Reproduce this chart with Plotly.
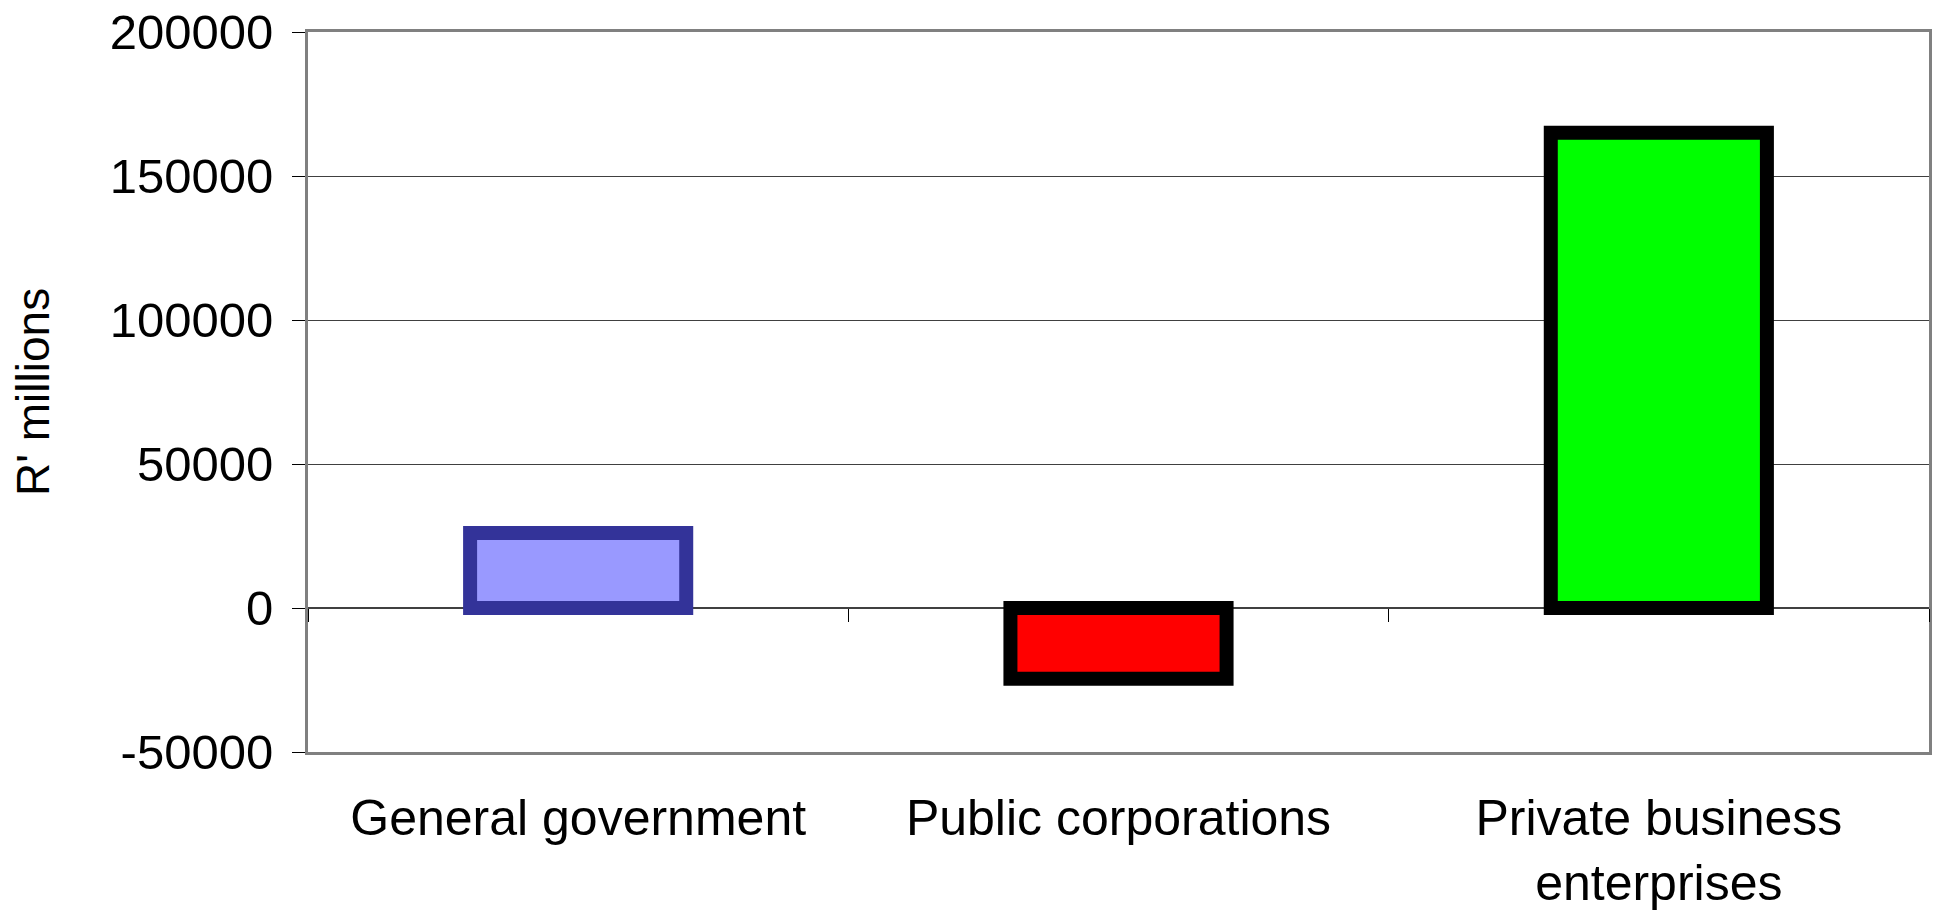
import plotly.graph_objects as go

# Sector balances, R' millions
categories = ["General government", "Public corporations", "Private business<br>enterprises"]
values = [26000, -24600, 165000]
fill_colors = ["#9999FF", "#FF0000", "#00FF00"]
edge_colors = ["#333399", "#000000", "#000000"]

y_ticks = [-50000, 0, 50000, 100000, 150000, 200000]
y_tick_text = ["-50000", "0", "50000", "100000", "150000", "200000"]
category_bounds = [-0.5, 0.5, 1.5, 2.5]
y_title = "R' millions"

FONT = "Liberation Sans, Arial, sans-serif"

fig = go.Figure()
fig.add_trace(go.Bar(
    x=categories,
    y=values,
    width=0.4,
    marker=dict(color=fill_colors, line=dict(color=edge_colors, width=14)),
    showlegend=False,
    hoverinfo="x+y",
))
# empty trace so the category-divider axis on the zero line gets drawn
fig.add_trace(go.Scatter(x=[], y=[], xaxis="x2", showlegend=False, hoverinfo="skip"))

y_min, y_max = y_ticks[0], y_ticks[-1]
zero_pos = (0 - y_min) / (y_max - y_min)

fig.update_layout(
    width=1936,
    height=912,
    margin=dict(l=308, r=7, t=32, b=160),
    paper_bgcolor="white",
    plot_bgcolor="white",
    font=dict(family=FONT, size=48, color="black"),
    xaxis=dict(
        type="category",
        range=[-0.5, 2.5],
        automargin=False,
        showgrid=False,
        showline=True,
        linecolor="#808080",
        linewidth=3,
        mirror=True,
        ticks="",
        tickfont=dict(size=50),
        ticklabelstandoff=20,
        zeroline=False,
    ),
    xaxis2=dict(
        overlaying="x",
        anchor="free",
        position=zero_pos,
        side="bottom",
        range=[-0.5, 2.5],
        automargin=False,
        tickmode="array",
        tickvals=category_bounds,
        ticks="outside",
        ticklen=13,
        tickwidth=1,
        tickcolor="black",
        showticklabels=False,
        showgrid=False,
        showline=False,
        zeroline=False,
    ),
    yaxis=dict(
        range=[y_min, y_max],
        automargin=False,
        tickmode="array",
        tickvals=y_ticks,
        ticktext=y_tick_text,
        ticks="outside",
        ticklen=13,
        tickwidth=1,
        tickcolor="black",
        tickfont=dict(size=49),
        ticklabelstandoff=9,
        showgrid=True,
        gridcolor="#404040",
        gridwidth=1,
        zeroline=True,
        zerolinecolor="#404040",
        zerolinewidth=1.5,
        showline=True,
        linecolor="#808080",
        linewidth=3,
        mirror=True,
    ),
    annotations=[dict(
        text=y_title,
        textangle=-90,
        xref="paper", yref="paper",
        x=-275 / 1621, y=0.5,
        xanchor="center", yanchor="middle",
        showarrow=False,
        font=dict(size=46),
    )],
)

fig.write_html("out.html")
